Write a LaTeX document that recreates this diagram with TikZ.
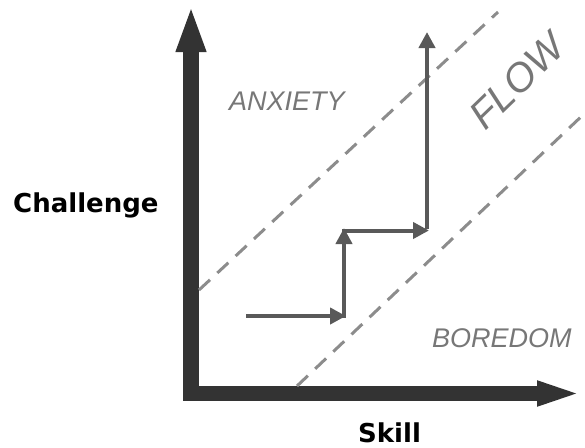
\documentclass[tikz,border=0pt]{standalone}
\usepackage{fontspec}
\setmainfont{Liberation Sans}
\newfontfamily\axisfont{DejaVu Sans}
\usetikzlibrary{arrows.meta}
\definecolor{axisgray}{HTML}{333333}
\definecolor{stepgray}{HTML}{595959}
\definecolor{dashgray}{HTML}{8C8C8C}
\definecolor{zonegray}{HTML}{777777}
\begin{document}
\begin{tikzpicture}[x=1pt,y=-1pt,
  axisline/.style={draw=axisgray,line width=15.5pt,line cap=butt,line join=miter},
  zoneline/.style={draw=dashgray,line width=3pt,dash pattern=on 15pt off 10pt},
  stair/.style={draw=stepgray,line width=4pt,-{Triangle[length=16pt,width=16pt]}},
  zonelabel/.style={text=zonegray,font=\itshape\fontsize{27}{30}\selectfont,inner sep=0pt,anchor=base west},
  axislabel/.style={text=black,font=\axisfont\bfseries\fontsize{26}{30}\selectfont,inner sep=0pt,anchor=base west}]
\useasboundingbox (0,0) rectangle (585,447);
% axes
\coordinate (ytip) at (191,5);
\coordinate (xtip) at (583,393.5);
\draw[axisline,{Triangle[length=47pt,width=27pt]}-{Triangle[length=46pt,width=22pt]}] (ytip) |- (xtip);
% flow channel boundaries
\coordinate (u0) at (199,290);
\coordinate (u1) at (498,12);
\coordinate (l0) at (297,386);
\coordinate (l1) at (585,113);
\draw[zoneline] (u0) -- (u1);
\draw[zoneline] (l0) -- (l1);
% staircase
\coordinate (s0) at (246,316);
\coordinate (s1) at (346,316);
\coordinate (s1b) at (344,318);
\coordinate (s2) at (344,228);
\coordinate (s2b) at (342,230.5);
\coordinate (s3) at (429,230.5);
\coordinate (s3b) at (427,228.5);
\coordinate (s4) at (427,32);
\draw[stair] (s0) -- (s1);
\draw[stair] (s1b) -- (s2);
\draw[stair] (s2b) -- (s3);
\draw[stair] (s3b) -- (s4);
% labels
\node[zonelabel] (anx) at (229,110) {ANXIETY};
\node[zonelabel] (bor) at (432,347) {BOREDOM};
\node[text=zonegray,font=\itshape\fontsize{40}{44}\selectfont,inner sep=0pt,rotate=44] (flow) at (517,81) {FLOW};
\node[axislabel] (chal) at (13,212) {Challenge};
\node[axislabel] (skill) at (358,442) {Skill};
\end{tikzpicture}
\end{document}
